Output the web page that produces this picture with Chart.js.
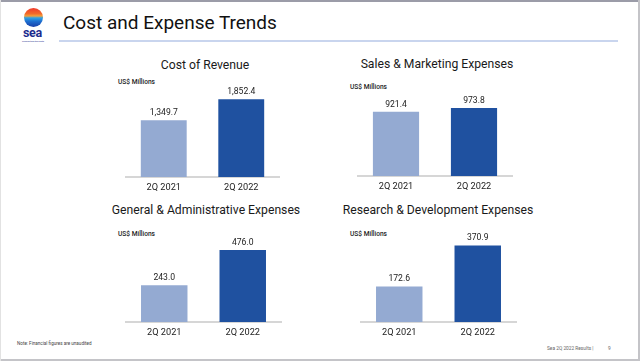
<!DOCTYPE html>
<html>
<head>
<meta charset="utf-8">
<script src="https://cdn.jsdelivr.net/npm/chart.js@4.4.0/dist/chart.umd.min.js"></script>
<style>
  html, body { margin:0; padding:0; background:#fff; }
  body { width:640px; height:361px; position:relative; overflow:hidden; font-family: Roboto, "Open Sans", sans-serif; }
  .abs { position:absolute; white-space:nowrap; }
  canvas { position:absolute; }
  .ttl { font-size:12.2px; color:#1a1a1a; text-align:center; width:220px; line-height:16px; }
  .unit { font-size:6.6px; color:#222; font-weight:500; line-height:8px; }
</style>
</head>
<body>
<!-- frame -->
<div class="abs" style="left:0;top:0;width:640px;height:2px;background:#9b9ca8;"></div>
<div class="abs" style="left:638px;top:0;width:2px;height:361px;background:#c4c4c8;"></div>
<div class="abs" style="left:0;top:359px;width:640px;height:2px;background:#c4c4c8;"></div>
<div class="abs" style="left:0;top:0;width:1px;height:361px;background:#e2e2e2;"></div>

<!-- logo -->
<div class="abs" style="left:24px;top:8px;width:19px;height:19px;border-radius:50%;
  background:linear-gradient(180deg,#ef3b2c 0%,#f26a2a 30%,#f4a03a 42%,#2fa3e6 52%,#1e6fd0 70%,#1a3fa8 100%);"></div>
<div class="abs" style="left:23px;top:26px;font-size:12.5px;font-weight:700;color:#1c2c8e;line-height:13px;letter-spacing:-0.3px;">sea</div>
<div class="abs" style="left:22px;top:40px;font-size:2.5px;color:#1c2c8e;line-height:3px;">connecting the dots</div>

<!-- heading -->
<div class="abs" style="left:63px;top:11px;font-size:19px;color:#111;line-height:24px;">Cost and Expense Trends</div>
<div class="abs" style="left:59px;top:40px;width:559px;height:1.5px;background:#c9d5ee;"></div>

<!-- chart titles -->
<div class="abs ttl" style="left:95px;top:57px;">Cost of Revenue</div>
<div class="abs ttl" style="left:327px;top:56px;">Sales &amp; Marketing Expenses</div>
<div class="abs ttl" style="left:96px;top:202px;">General &amp; Administrative Expenses</div>
<div class="abs ttl" style="left:328px;top:202px;">Research &amp; Development Expenses</div>

<div class="abs unit" style="left:118px;top:78px;">US$ Millions</div>
<div class="abs unit" style="left:350px;top:83px;">US$ Millions</div>
<div class="abs unit" style="left:118px;top:230px;">US$ Millions</div>
<div class="abs unit" style="left:350px;top:230px;">US$ Millions</div>

<!-- footer -->
<div class="abs" style="left:17px;top:341px;font-size:4.6px;color:#444;line-height:6px;">Note: Financial figures are unaudited</div>
<div class="abs" style="left:547px;top:346px;font-size:4.8px;color:#666;line-height:6px;">Sea 2Q 2022 Results |</div>
<div class="abs" style="left:608px;top:346px;font-size:4.8px;color:#666;line-height:6px;">9</div>

<canvas id="c1"></canvas>
<canvas id="c2"></canvas>
<canvas id="c3"></canvas>
<canvas id="c4"></canvas>

<script>
// ---- data ----
const categories = ['2Q 2021', '2Q 2022'];
const costOfRevenue = [1349.7, 1852.4];
const salesMarketing = [921.4, 973.8];
const generalAdmin = [243.0, 476.0];
const researchDev = [172.6, 370.9];
const barColors = ['#94aad2', '#1f51a0'];

// per-chart value-axis maximum
const yMaxCost = 1952;
const yMaxSales = 1175;
const yMaxGA = 543;
const yMaxRD = 398;

const AREA_H = 82, PAD_TOP = 22, AXIS_H = 20;

const valueLabels = {
  id: 'valueLabels',
  afterDatasetsDraw(chart) {
    const ctx = chart.ctx;
    const meta = chart.getDatasetMeta(0);
    const data = chart.data.datasets[0].data;
    ctx.save();
    ctx.font = '8.6px Roboto, sans-serif';
    ctx.fillStyle = '#222';
    ctx.textAlign = 'center';
    ctx.textBaseline = 'bottom';
    meta.data.forEach((bar, i) => {
      const txt = data[i].toLocaleString('en-US', {minimumFractionDigits: 1, maximumFractionDigits: 1});
      ctx.fillText(txt, bar.x, bar.y - 3);
    });
    ctx.restore();
  }
};

function makeChart(id, values, yMax, left, width, baseline) {
  const cv = document.getElementById(id);
  const h = PAD_TOP + AREA_H + AXIS_H;
  cv.width = width; cv.height = h;
  cv.style.left = left + 'px';
  cv.style.top = (baseline - AREA_H - PAD_TOP) + 'px';
  cv.style.width = width + 'px'; cv.style.height = h + 'px';
  new Chart(cv, {
    type: 'bar',
    data: {
      labels: categories,
      datasets: [{
        data: values,
        backgroundColor: barColors,
        borderWidth: 0,
        barPercentage: 0.592,
        categoryPercentage: 1.0
      }]
    },
    options: {
      responsive: false,
      animation: false,
      devicePixelRatio: 1,
      layout: { padding: { top: PAD_TOP, left: 0, right: 0, bottom: 0 } },
      plugins: { legend: { display: false }, tooltip: { enabled: false } },
      scales: {
        x: {
          grid: { display: false, drawTicks: false },
          border: { display: true, color: '#d6d6d6', width: 2 },
          ticks: { color: '#222', font: { family: 'Roboto', size: 9.2 }, padding: 5, maxRotation: 0 },
          afterFit: s => { s.height = AXIS_H; }
        },
        y: { display: false, min: 0, max: yMax }
      }
    },
    plugins: [valueLabels]
  });
}

makeChart('c1', costOfRevenue, yMaxCost, 125, 155, 177);
makeChart('c2', salesMarketing, yMaxSales, 357, 156, 176);
makeChart('c3', generalAdmin, yMaxGA, 125, 157, 322);
makeChart('c4', researchDev, yMaxRD, 360, 157, 322);
</script>
</body>
</html>
